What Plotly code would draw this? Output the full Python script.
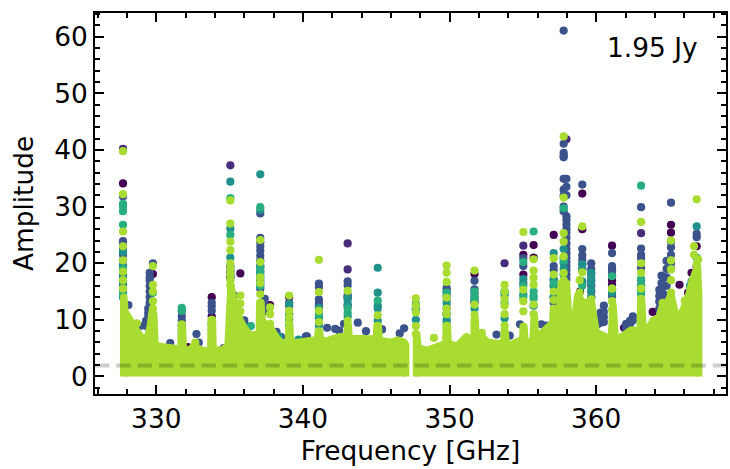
import plotly.graph_objects as go

# Colours of the overlaid series
series_colors = ["#440154", "#472d7b", "#3b528b", "#21918c", "#28ae80", "#a8dc30"]
series_names = ["purple", "indigo", "blue", "teal", "green", "lime"]

# Individual spectral channels: column frequency [GHz] and amplitudes read at that column
purple_freq = [327.73, 329.77, 332.15, 333.78, 335.05, 335.73, 337.76, 339.06, 343.05, 351.7, 355.03, 355.73,
               357.1, 358.9, 359.05, 361.08, 361.9, 363.06, 363.85, 365.1, 365.68, 366.27, 366.5, 366.85]
purple_amp = [[34.1], [18.1], [5.2], [14.0, 10.6], [17.5], [18.2], [12.6], [14.0], [14.0, 12.5], [18.1, 13.1], [21.5, 18.0], [23.2, 21.0],
              [25.0], [15.0], [32.3, 26.0], [23.1, 17.0, 16.2], [8.6], [16.0], [11.4], [26.8, 25.4], [16.2], [14.8], [18.3], [23.0, 19.4]]

indigo_freq = [327.73, 335.05, 343.05, 353.75, 355.03, 357.97, 363.06]
indigo_amp = [[40.2], [37.3], [23.5, 18.9], [20.0], [23.1], [41.9], [25.3, 15.5]]

blue_freq = [327.73, 328.1, 328.9, 329.3, 329.45, 329.55, 329.77, 330.95, 331.74, 332.74, 332.9, 333.78, 334.6,
             335.05, 335.3, 335.5, 336.0, 337.09, 337.4, 338.2, 338.5, 339.06, 340.2, 340.27, 341.09, 341.65, 342.2, 342.47, 342.8,
             343.05, 343.74, 344.3, 345.4, 346.6, 346.9, 349.8, 351.7, 353.2, 354.1, 354.8, 355.03, 356.26, 356.6, 357.1, 357.5, 357.78, 357.97, 359.05, 359.66,
             360.1, 360.3, 360.52, 361.08, 362.04, 362.3, 362.5, 363.06, 364.3, 364.45, 364.6, 364.8, 365.1, 366.85]
blue_amp = [[31.8, 23.9, 23.2, 22.5, 21.5, 20.5, 19.5, 18.0, 17.0, 16.0], [12.6], [8.9], [8.9, 9.8], [12.0, 10.5, 11.2], [18.3, 17.5, 17.0, 16.0, 15.0, 14.0, 13.0, 12.0],
            [20.0], [5.9], [11.5, 10.6, 9.8, 9.0, 8.2, 7.5], [7.5], [6.0], [13.0, 12.4, 11.6], [5.0],
            [19.5, 18.5, 17.6], [14.3, 13.0], [12.0, 11.0], [9.9, 9.2], [28.8, 24.5, 23.7, 22.9, 22.2, 21.3, 20.5, 19.5, 18.5, 17.5, 16.5, 15.5], [13.7, 12.5, 11.5], [7.9], [7.0], [12.5, 13.0], [7.1], [7.1],
            [16.4, 15.8, 13.6, 13.0, 12.7, 12.2], [8.6], [8.4], [8.1], [9.3],
            [16.8, 16.1, 14.4], [9.5], [8.0], [8.3], [7.6], [8.5], [15.6, 15.0, 14.2, 12.0, 11.0], [16.9, 14.7, 14.0, 15.4], [7.4], [7.2], [9.2], [20.9, 19.5, 16.5], [9.2], [9.0], [19.5, 18.8, 17.0, 16.0, 14.0, 13.0], [11.4, 10.5],
            [61.1, 41.1, 39.5, 39.0, 38.7, 34.9, 33.0, 32.0, 30.0, 29.2],
            [34.9, 33.5, 32.0, 28.3, 27.6, 26.8, 26.0, 25.4, 24.5, 23.5, 22.5, 21.7, 21.0, 20.2, 19.5, 18.8, 18.0, 17.2],
            [33.9, 22.5, 21.4, 20.6, 19.8, 18.9, 16.5], [20.0, 19.0, 18.2, 17.0, 16.0, 15.0, 14.0],
            [10.0, 9.2], [10.5, 9.5, 11.3], [12.5, 11.4, 10.5, 9.6], [21.8, 19.5, 19.0, 18.6, 17.8, 15.5, 14.2], [9.3, 8.6], [9.8, 9.2], [10.6, 9.9], [29.9, 22.6, 21.5, 20.9, 19.2, 17.0, 15.0],
            [15.3, 14.2, 13.2, 12.0], [17.8, 16.5, 15.0, 14.0], [17.6, 16.0, 14.5], [20.4, 19.0, 17.5, 16.0], [30.7, 23.8, 22.8, 21.5, 20.0], [25.2, 24.6]]

teal_freq = [327.73, 331.74, 333.78, 335.05, 336.43, 337.09, 338.4, 339.06, 339.7, 341.09, 343.05, 345.1, 347.7, 349.8, 351.7, 353.75, 355.03,
             355.73, 357.1, 357.78, 359.05, 359.66, 361.08, 362.3, 365.1, 366.4, 366.85]
teal_amp = [[22.0, 19.5, 18.5, 17.5, 16.5, 15.0, 14.0], [9.0, 8.0, 7.0], [9.2, 8.2], [34.4, 26.1, 21.0, 19.0, 18.0], [8.9], [35.7, 29.4, 19.5, 18.5, 17.0, 16.0], [7.0], [11.0, 12.8, 10.2, 9.0], [6.5], [10.3, 9.0, 12.1], [13.5, 12.7, 13.9, 10.6], [19.2, 14.8, 12.5, 12.0, 9.8],
            [12.8, 12.0, 10.0], [12.8, 13.4, 10.0, 11.0, 9.5], [13.6, 12.0], [14.8, 14.3, 10.3], [17.2, 14.5], [14.2, 12.5], [21.8, 16.0, 17.2, 14.0, 11.0], [22.5, 20.0, 21.0, 19.0, 18.0], [19.8, 19.0, 16.8], [18.3, 15.2, 17.5, 16.5, 14.0], [14.8], [7.5], [19.0], [16.0, 15.0], [26.5]]

green_freq = [327.73, 329.77, 331.74, 333.78, 335.05, 336.43, 337.09, 339.06, 341.09, 343.05, 345.1, 347.7, 349.8, 351.7,
              353.75, 355.03, 355.73, 357.1, 357.78, 359.05, 361.08, 363.06, 366.5, 366.85]
green_amp = [[30.5, 30.0, 29.2, 26.8, 19.0, 15.5, 14.5], [14.8], [12.1, 11.6], [9.5], [31.5, 25.0, 18.0], [8.9], [29.9, 18.0, 19.0, 16.0], [10.0], [11.0], [11.2, 12.0], [13.4],
             [11.8], [14.8], [14.0, 15.0], [15.0, 13.0], [20.2, 16.0, 14.0], [25.6, 15.0, 13.8], [16.5], [29.7, 20.5], [16.0], [17.7, 15.5], [33.7, 17.2, 16.0, 15.0, 14.5], [16.8], [21.0]]

lime_freq = [327.73, 328.68, 329.77, 331.74, 332.66, 333.78, 335.05, 335.73, 337.09, 337.76, 339.06, 341.09, 343.05,
             345.1, 347.7, 348.93, 349.8, 351.7, 352.2, 353.75, 355.03, 355.73, 357.1, 357.78, 358.87, 359.05, 359.66,
             361.08, 363.06, 363.9, 364.53, 365.1, 366.04, 366.67, 366.85, 366.95]
lime_amp = [[39.8, 32.2, 25.6, 23.0, 20.5, 18.5, 17.0, 15.5], [9.4], [19.5, 16.2, 15.0, 13.3, 12.0], [9.2], [6.0], [10.0, 8.8],
            [31.1, 27.0, 23.8, 22.3, 20.0, 19.0, 18.0, 17.0, 16.0], [14.3, 12.9, 11.5], [24.1, 20.2, 17.5, 16.5, 14.5, 13.0], [12.2, 11.0, 9.3], [14.3, 11.6, 10.5, 9.4, 8.5],
            [20.6, 14.9, 11.6, 9.6], [15.1, 9.8, 8.7],
            [10.8, 8.9], [13.8, 12.5, 11.3, 8.9, 7.5], [6.8], [19.6, 18.3, 16.7, 13.9, 12.0, 11.0, 8.9], [18.7, 12.7, 10.9, 9.5], [7.7], [16.2, 15.0, 13.7, 12.5, 11.0, 9.0],
            [25.5, 15.3, 13.3, 11.5], [20.7, 18.7, 17.4, 16.2, 12.7, 11.0], [20.9, 18.0, 15.0, 13.5, 12.0], [42.4, 31.6, 25.3, 23.8, 21.2, 18.3, 17.0],
            [17.0, 14.8], [26.5, 18.4], [13.6], [15.5, 13.3, 11.8], [27.3, 20.0, 18.3, 15.5, 13.7, 12.1], [9.8], [13.0], [24.0, 20.5, 18.9, 17.0, 14.8], [13.4], [23.0, 21.5],
            [31.3, 19.8, 18.5], [20.7]]

# Upper outline of the dense lower band of channels, two continuous windows
band1_freq = [327.78, 327.78, 327.85, 328.0, 328.3, 328.6, 328.9, 329.2, 329.45, 329.6, 329.72, 329.82, 329.9, 330.0, 330.5, 331.0, 331.55,
              331.68, 331.72, 331.78, 331.84, 332.2, 332.6, 333.0, 333.5, 333.72, 333.76, 333.82, 333.87, 334.5, 334.9, 334.98, 335.1,
              335.2, 335.45, 335.7, 336.0, 336.4, 336.95, 337.03, 337.06, 337.13, 337.2, 337.5, 337.8, 338.2, 338.6, 338.95, 339.02,
              339.05, 339.1, 339.15, 339.8, 340.2, 340.6, 341.0, 341.05, 341.12, 341.2, 341.6, 342.0, 342.5, 343.0, 343.03, 343.08,
              343.15, 344.0, 344.5, 345.0, 345.06, 345.13, 345.2, 346.0, 346.5, 346.9, 347.0, 347.0]
band1_amp = [0.0, 14.0, 11.5, 10.8, 9.6, 8.0, 7.1, 6.6, 7.2, 9.0, 11.5, 11.0, 6.0, 5.4, 5.2, 5.0, 4.8,
             4.8, 8.5, 8.5, 4.8, 4.6, 5.4, 4.7, 4.4, 4.6, 10.0, 10.0, 4.6, 4.6, 5.5, 16.0, 16.0,
             14.0, 11.5, 10.0, 8.5, 7.2, 7.5, 7.5, 13.0, 13.0, 10.0, 8.5, 8.5, 6.8, 5.8, 6.0, 6.0,
             8.5, 8.5, 5.8, 6.0, 6.0, 6.3, 6.5, 8.0, 8.0, 6.5, 6.2, 6.6, 7.0, 7.0, 9.0, 9.0,
             6.7, 6.5, 6.4, 6.6, 9.0, 9.0, 6.4, 6.0, 6.4, 6.0, 5.5, 0.0]
band2_freq = [347.75, 347.75, 347.85, 348.5, 349.0, 349.5, 349.75, 349.78, 349.84, 349.9, 350.5, 351.15, 351.5, 351.67, 351.7, 351.75, 351.8,
              352.0, 352.2, 352.6, 353.2, 353.7, 353.73, 353.78, 353.85, 354.0, 354.5, 355.0, 355.02, 355.07, 355.14, 355.36, 355.7,
              355.72, 355.78, 355.85, 356.15, 356.72, 357.05, 357.08, 357.14, 357.22, 357.45, 357.62, 357.96, 358.1, 358.53, 358.75, 358.9,
              359.09, 359.66, 360.0, 360.57, 360.9, 361.05, 361.09, 361.14, 361.29, 361.8, 362.38, 362.83, 363.0, 363.04, 363.1, 363.2,
              363.33, 363.9, 364.3, 364.53, 364.87, 365.09, 365.2, 365.43, 365.77, 366.23, 366.57, 366.9, 366.98, 366.98]
band2_amp = [0.0, 7.5, 5.0, 4.6, 5.2, 5.6, 5.8, 9.0, 9.0, 5.8, 5.3, 7.0, 6.0, 6.0, 10.0, 10.0, 6.0,
             6.2, 7.0, 6.0, 5.8, 5.8, 8.0, 8.0, 5.8, 5.3, 6.0, 6.5, 8.8, 8.8, 5.8, 5.8, 6.5,
             10.5, 10.5, 7.0, 7.3, 8.7, 9.5, 11.5, 11.5, 9.4, 9.4, 16.5, 16.5, 11.0, 9.7, 14.3, 13.5,
             13.0, 13.2, 7.7, 7.1, 6.5, 6.8, 12.6, 12.6, 6.5, 7.1, 8.2, 8.0, 8.0, 13.0, 13.0, 8.0,
             7.7, 9.8, 10.5, 12.6, 13.0, 14.4, 12.5, 10.5, 10.8, 13.5, 17.0, 19.3, 14.3, 0.0]

threshold = 1.95
threshold_label = "1.95 Jy"
x_ticks = [330, 340, 350, 360]
y_ticks = [0, 10, 20, 30, 40, 50, 60]

FONT = "DejaVu Sans"
FS = 26.4
fig = go.Figure()

all_freq = [purple_freq, indigo_freq, blue_freq, teal_freq, green_freq, lime_freq]
all_amp = [purple_amp, indigo_amp, blue_amp, teal_amp, green_amp, lime_amp]
for name, color, freqs, amps in zip(series_names, series_colors, all_freq, all_amp):
    xs, ys = [], []
    for f, column in zip(freqs, amps):
        for a in column:
            xs.append(f)
            ys.append(a)
    fig.add_trace(go.Scatter(x=xs, y=ys, mode="markers", name=name,
                             marker=dict(color=color, size=8.2, line=dict(width=0))))

for bf, ba in ((band1_freq, band1_amp), (band2_freq, band2_amp)):
    fig.add_trace(go.Scatter(x=bf, y=ba, mode="lines", fill="toself", fillcolor=series_colors[5],
                             line=dict(color=series_colors[5], width=7.6, shape="linear"), name="band"))

fig.add_shape(type="line", xref="paper", yref="y", x0=0, x1=1, y0=threshold, y1=threshold, layer="above",
              line=dict(color="rgba(0,0,0,0.2)", width=4, dash="14.3px,7px"))

fig.add_annotation(text=threshold_label, xref="paper", yref="paper", x=0.884, y=0.91, xanchor="center", yanchor="middle",
                   showarrow=False, font=dict(family=FONT, size=FS, color="black"))

axis_common = dict(showgrid=False, zeroline=False, showline=True, linecolor="black", linewidth=2,
                   mirror="allticks", ticks="inside", ticklen=9, tickwidth=2, tickcolor="black",
                   tickfont=dict(family=FONT, size=FS, color="black"))

fig.update_xaxes(range=[325.82, 368.85], tickvals=x_ticks, title=dict(text="Frequency [GHz]", font=dict(family=FONT, size=FS, color="black"), standoff=9),
                 minor=dict(dtick=2, ticks="inside", ticklen=5, tickwidth=2, tickcolor="black", showgrid=False), **axis_common)
fig.update_yaxes(range=[-3.1, 64.2], tickvals=y_ticks, title=dict(text="Amplitude", font=dict(family=FONT, size=FS, color="black"), standoff=13),
                 minor=dict(dtick=2, ticks="inside", ticklen=5, tickwidth=2, tickcolor="black", showgrid=False), **axis_common)

fig.update_layout(width=730, height=469, autosize=False, showlegend=False, plot_bgcolor="white", paper_bgcolor="white",
                  margin=dict(l=95, r=2, t=13, b=75, pad=0), font=dict(family=FONT))

css = ("document.body.style.margin='0';document.documentElement.style.overflow='hidden';"
       "var s=document.createElement('style');s.textContent='.js-line{stroke-linejoin:round !important}';document.head.appendChild(s);")
fig.write_html("out.html", config={"displayModeBar": False}, post_script=css)
